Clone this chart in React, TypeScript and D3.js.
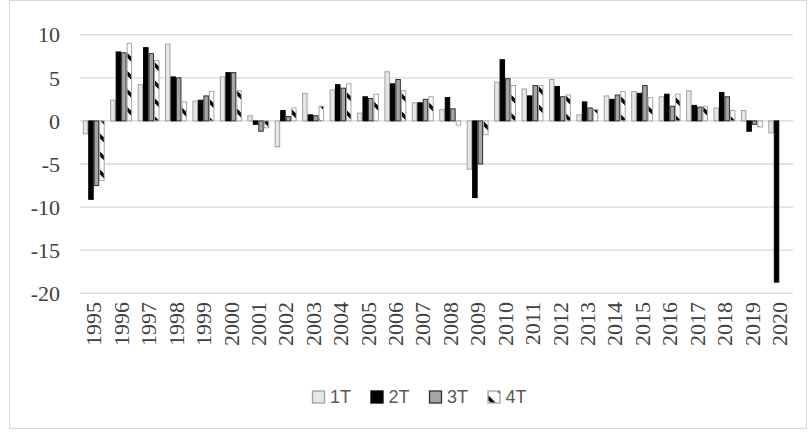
import React, { useRef, useEffect } from 'react';
import * as d3 from 'd3';

const years = ['1995', '1996', '1997', '1998', '1999', '2000', '2001', '2002', '2003', '2004', '2005', '2006', '2007',
  '2008', '2009', '2010', '2011', '2012', '2013', '2014', '2015', '2016', '2017', '2018', '2019', '2020'];
const quarters = ['1T', '2T', '3T', '4T'];

const q1 = [-1.5, 2.4, 4.2, 8.9, 2.3, 5.1, 0.6, -3.0, 3.2, 3.6, 0.9, 5.7, 2.1, 1.3, -5.6, 4.5, 3.7, 4.8, 0.7, 2.9, 3.4, 2.8, 3.5, 1.5, 1.2, -1.4];
const q2 = [-9.1, 8.0, 8.5, 5.1, 2.4, 5.6, -0.4, 1.2, 0.7, 4.2, 2.8, 4.3, 2.1, 2.7, -8.9, 7.1, 2.9, 4.0, 2.2, 2.5, 3.2, 3.1, 1.8, 3.3, -1.2, -18.7];
const q3 = [-7.5, 7.9, 7.8, 5.0, 2.9, 5.6, -1.2, 0.5, 0.6, 3.8, 2.6, 4.8, 2.5, 1.4, -5.0, 4.9, 4.1, 2.8, 1.5, 3.0, 4.1, 1.7, 1.6, 2.8, -0.4, null];
const q4 = [-6.9, 9.0, 7.0, 2.2, 3.4, 3.5, -0.8, 1.5, 1.7, 4.3, 3.1, 3.5, 2.8, -0.5, -1.6, 4.1, 4.1, 3.0, 1.3, 3.4, 2.7, 3.1, 1.7, 1.2, -0.7, null];
const series = [q1, q2, q3, q4];
const yTicks = [-20, -15, -10, -5, 0, 5, 10];

const fills = ['#e7e7e7', '#000000', '#a5a5a5', 'url(#diag)'];
const strokes = ['#a0a0a0', '#000000', '#303030', '#a5a5a5'];

const Chart = () => {
  const svgRef = useRef(null);
  useEffect(() => {
    const svg = d3.select(svgRef.current);
    svg.selectAll('*').remove();

    // pattern for the 4th quarter (wide downward diagonal)
    const pat = svg.append('defs').append('pattern')
      .attr('id', 'diag')
      .attr('patternUnits', 'userSpaceOnUse')
      .attr('width', 18).attr('height', 18);
    pat.append('rect').attr('width', 18).attr('height', 18).attr('fill', '#fff');
    pat.append('path').attr('d', 'M-3,-3 L21,21 M-3,15 L3,21 M15,-3 L21,3')
      .attr('stroke', '#000').attr('stroke-width', 3.5);

    svg.append('rect')
      .attr('x', 9.5).attr('y', 0.5).attr('width', 797).attr('height', 428)
      .attr('fill', '#fff').attr('stroke', '#d9d9d9');

    const x = d3.scaleBand().domain(years).range([80, 793]).paddingInner(0.2).paddingOuter(0.1);
    const xq = d3.scaleBand().domain(quarters).range([0, x.bandwidth()]);
    const y = d3.scaleLinear().domain([-20, 10]).range([293.3, 34.7]);

    // gridlines
    svg.append('g').selectAll('line')
      .data(yTicks)
      .join('line')
      .attr('x1', 80).attr('x2', 793)
      .attr('y1', d => y(d)).attr('y2', d => y(d))
      .attr('stroke', '#d9d9d9').attr('stroke-width', 1.3);

    svg.append('g').selectAll('text')
      .data(yTicks)
      .join('text')
      .attr('x', 60).attr('y', d => y(d))
      .attr('dy', '0.35em')
      .attr('text-anchor', 'end')
      .attr('font-family', '"Liberation Serif", "Times New Roman", serif')
      .attr('font-size', 22)
      .attr('fill', '#404040')
      .text(d => d);

    // bars
    series.forEach((vals, qi) => {
      svg.append('g').selectAll('rect')
        .data(vals.map((v, i) => ({ v, yr: years[i] })).filter(d => d.v !== null))
        .join('rect')
        .attr('x', d => x(d.yr) + xq(quarters[qi]) + 0.5)
        .attr('y', d => y(Math.max(0, d.v)))
        .attr('width', xq.bandwidth() - 1)
        .attr('height', d => Math.abs(y(d.v) - y(0)))
        .attr('fill', fills[qi])
        .attr('stroke', strokes[qi])
        .attr('stroke-width', 1);
    });

    // year labels
    svg.append('g').selectAll('text')
      .data(years)
      .join('text')
      .attr('transform', d => `translate(${x(d) + x.bandwidth() / 2},302) rotate(-90)`)
      .attr('dy', '0.35em')
      .attr('text-anchor', 'end')
      .attr('font-family', '"Liberation Serif", "Times New Roman", serif')
      .attr('font-size', 22)
      .attr('fill', '#404040')
      .text(d => d);

    // legend
    const leg = svg.append('g').attr('transform', 'translate(312,397)');
    const item = leg.selectAll('g')
      .data(quarters)
      .join('g')
      .attr('transform', (d, i) => `translate(${i * 58.5},0)`);
    item.append('rect')
      .attr('x', 0.5).attr('y', -6).attr('width', 12).attr('height', 12)
      .attr('fill', (d, i) => fills[i])
      .attr('stroke', (d, i) => strokes[i]).attr('stroke-width', 1.3);
    item.append('text')
      .attr('x', 18).attr('y', 0).attr('dy', '0.36em')
      .attr('font-family', '"Liberation Sans", sans-serif')
      .attr('font-size', 18)
      .attr('fill', '#595959')
      .text(d => d);
  }, []);

  return <svg ref={svgRef} width={809} height={432} style={{ position: 'absolute', left: 0, top: 0 }} />;
};

export default function App() {
  return <Chart />;
}
